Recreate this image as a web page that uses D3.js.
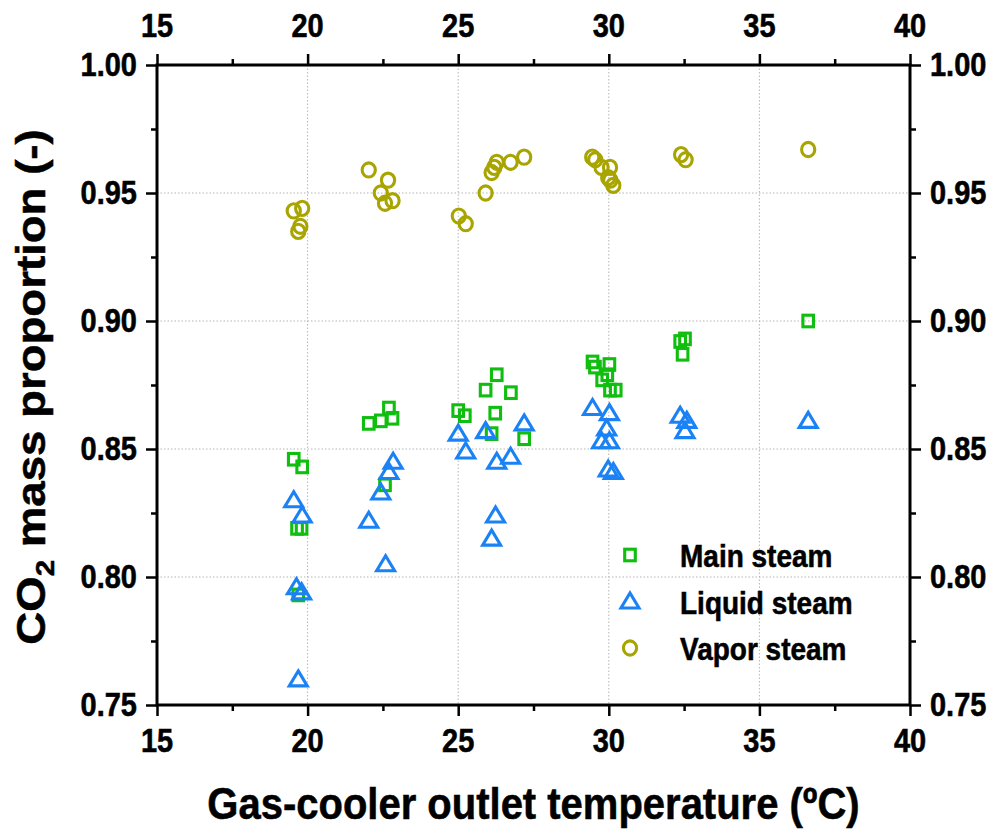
<!DOCTYPE html>
<meta charset="utf-8">
<style>
  body { margin: 0; background: #fff; }
  svg text { font-family: "Liberation Sans", Arial, sans-serif; font-weight: bold; fill: #000; stroke: #000; stroke-width: 0.5; }
  .grid line { stroke: #b4b4b4; stroke-width: 1; stroke-dasharray: 1.5,2; }
  .tk line { stroke: #000; stroke-width: 2.5; }
  .tk path { display: none; }
</style>
<body>
<div id="chart"></div>
<script src="https://d3js.org/d3.v7.min.js"></script>
<script>
// tick values
const xTicks = [15, 20, 25, 30, 35, 40];
const xMinor = [17.5, 22.5, 27.5, 32.5, 37.5];
const yTicks = [0.75, 0.80, 0.85, 0.90, 0.95, 1.00];
const yMinor = [0.775, 0.825, 0.875, 0.925, 0.975];

// Main steam (squares)
const mainX = [19.54, 19.82, 19.65, 19.80, 19.69, 22.03, 22.43, 22.70, 22.82, 22.57,
  25.00, 25.22, 25.91, 26.28, 26.75, 26.23, 26.11, 27.19,
  29.46, 29.54, 30.02, 29.95, 29.78, 30.04, 30.23, 32.37, 32.53, 32.45, 36.62];
const mainY = [0.846, 0.843, 0.819, 0.819, 0.793, 0.860, 0.861, 0.866, 0.862, 0.836,
  0.865, 0.863, 0.873, 0.879, 0.872, 0.864, 0.856, 0.854,
  0.884, 0.882, 0.883, 0.879, 0.877, 0.873, 0.873, 0.892, 0.893, 0.887, 0.900];

// Liquid steam (triangles)
const liquidX = [19.54, 19.82, 19.63, 19.80, 19.69, 22.84, 22.70, 22.43, 22.03, 22.59,
  25.00, 25.25, 25.91, 26.28, 26.74, 27.19, 26.24, 26.11,
  29.46, 30.02, 29.93, 29.76, 30.02, 29.98, 30.15, 32.37, 32.59, 32.53, 36.62];
const liquidY = [0.830, 0.824, 0.796, 0.794, 0.760, 0.845, 0.841, 0.833, 0.822, 0.805,
  0.856, 0.849, 0.857, 0.845, 0.847, 0.860, 0.824, 0.815,
  0.866, 0.864, 0.858, 0.853, 0.853, 0.842, 0.841, 0.863, 0.861, 0.857, 0.861];

// Vapor steam (circles)
const vaporX = [19.54, 19.82, 19.76, 19.69, 22.03, 22.67, 22.43, 22.57, 22.82,
  25.02, 25.25, 25.91, 26.11, 26.20, 26.28, 26.74, 27.19,
  29.45, 29.55, 29.76, 30.04, 29.98, 30.05, 30.15, 32.40, 32.55, 36.62];
const vaporY = [0.943, 0.944, 0.937, 0.935, 0.959, 0.955, 0.950, 0.946, 0.947,
  0.941, 0.938, 0.950, 0.958, 0.960, 0.962, 0.962, 0.964,
  0.964, 0.963, 0.960, 0.960, 0.956, 0.955, 0.953, 0.965, 0.963, 0.967];

const seriesNames = ["Main steam", "Liquid steam", "Vapor steam"];
const colors = ["#0fbe0f", "#1a82f5", "#a8a400"];
const shapes = ["square", "triangle", "circle"];

const W = 995, H = 829;
const pLeft = 157, pRight = 910, pTop = 65, pBottom = 705;
const sy = 1.12; // text looks a bit taller than wide in the reference

const x = d3.scaleLinear().domain([15, 40]).range([pLeft, pRight]);
const y = d3.scaleLinear().domain([0.75, 1.0]).range([pBottom, pTop]);

const svg = d3.select("#chart").append("svg")
  .attr("width", W).attr("height", H);

// grid
const grid = svg.append("g").attr("class", "grid");
grid.selectAll(".gx").data(xTicks.slice(1, -1)).join("line").attr("class", "gx")
  .attr("x1", d => x(d)).attr("x2", d => x(d)).attr("y1", pTop).attr("y2", pBottom);
grid.selectAll(".gy").data(yTicks.slice(1, -1)).join("line").attr("class", "gy")
  .attr("y1", d => y(d)).attr("y2", d => y(d)).attr("x1", pLeft).attr("x2", pRight);

// ticks on all four sides
function ticks(axisFn, scale, vals, size, tr) {
  svg.append("g").attr("class", "tk").attr("transform", tr)
    .call(axisFn(scale).tickValues(vals).tickSize(size).tickFormat(""));
}
ticks(d3.axisBottom, x, xTicks, 11, `translate(0,${pBottom})`);
ticks(d3.axisBottom, x, xMinor, 6, `translate(0,${pBottom})`);
ticks(d3.axisTop, x, xTicks, 11, `translate(0,${pTop})`);
ticks(d3.axisTop, x, xMinor, 6, `translate(0,${pTop})`);
ticks(d3.axisLeft, y, yTicks, 11, `translate(${pLeft},0)`);
ticks(d3.axisLeft, y, yMinor, 6, `translate(${pLeft},0)`);
ticks(d3.axisRight, y, yTicks, 11, `translate(${pRight},0)`);
ticks(d3.axisRight, y, yMinor, 6, `translate(${pRight},0)`);

// frame
svg.append("rect")
  .attr("x", pLeft).attr("y", pTop).attr("width", pRight - pLeft).attr("height", pBottom - pTop)
  .attr("fill", "none").attr("stroke", "#000").attr("stroke-width", 3);

function label(px, py, txt, anchor, size) {
  return svg.append("text")
    .attr("transform", `translate(${px},${py}) scale(1,${sy})`)
    .attr("text-anchor", anchor)
    .style("font-size", size + "px")
    .text(txt);
}

xTicks.forEach(v => {
  label(x(v), 752, v, "middle", 29);
  label(x(v), 37, v, "middle", 29);
});
yTicks.forEach(v => {
  label(pLeft - 20, y(v) + 11, v.toFixed(2), "end", 29);
  label(pRight + 20, y(v) + 11, v.toFixed(2), "start", 29);
});

// axis titles
label((pLeft + pRight) / 2, 819, "Gas-cooler outlet temperature (ºC)", "middle", 40);

const yt = svg.append("text")
  .attr("transform", `translate(45,${(pTop + pBottom) / 2 + 2}) rotate(-90) scale(${sy + 0.02},1)`)
  .attr("text-anchor", "middle")
  .style("font-size", "40px");
yt.append("tspan").text("CO");
yt.append("tspan").attr("dy", 9).style("font-size", "26px").text("2");
yt.append("tspan").attr("dy", -9).text(" mass proportion (-)");

// markers
function marker(g, shape, color) {
  if (shape === "square") {
    g.append("rect").attr("x", -5.3).attr("y", -5.8).attr("width", 10.6).attr("height", 11.6);
  } else if (shape === "triangle") {
    g.append("path").attr("d", "M0,-8.5L9,6.5L-9,6.5Z");
  } else {
    g.append("ellipse").attr("rx", 6.6).attr("ry", 7.1);
  }
  g.selectAll("rect,path,ellipse").attr("fill", "none").attr("stroke", color)
    .attr("stroke-width", 3.1).attr("stroke-linejoin", "miter");
}

const series = [
  mainX.map((d, i) => [d, mainY[i]]),
  liquidX.map((d, i) => [d, liquidY[i]]),
  vaporX.map((d, i) => [d, vaporY[i]])
];

series.forEach((pts, s) => {
  svg.append("g").selectAll("g").data(pts).join("g")
    .attr("transform", d => `translate(${x(d[0])},${y(d[1])})`)
    .each(function () { marker(d3.select(this), shapes[s], colors[s]); });
});

// legend
seriesNames.forEach((name, i) => {
  const ly = 555 + i * 46.5;
  const g = svg.append("g").attr("transform", `translate(630,${ly})`);
  marker(g, shapes[i], colors[i]);
  label(680, ly + 12, name, "start", 28);
});
</script>
</body>
</html>
